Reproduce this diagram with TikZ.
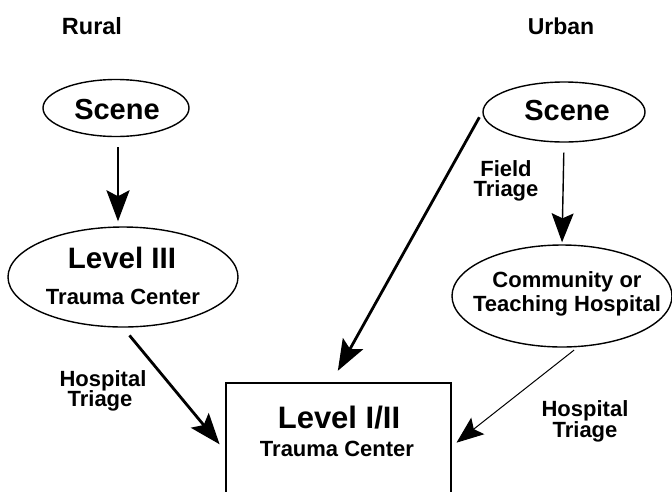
\documentclass[tikz,border=0pt]{standalone}
\usepackage{fontspec}
\setmainfont{Liberation Sans}
\usetikzlibrary{shapes.geometric,arrows.meta}
\tikzset{
  oval/.style={draw,ellipse,line width=1.4pt,inner sep=0pt},
  txt/.style={inner sep=0pt,anchor=base,font=\bfseries},
  bigarrow/.style={line width=2.8pt,-{Stealth[length=31pt,width=23pt,inset=6pt]}},
  midarrow/.style={line width=1.4pt,-{Stealth[length=29pt,width=22pt,inset=5pt]}},
  thinarrow/.style={line width=1pt,-{Stealth[length=27pt,width=21pt,inset=5pt]}},
}
\begin{document}
\begin{tikzpicture}[x=1pt,y=-1pt]
\clip (0,0) rectangle (672,491);
\fill[white] (0,0) rectangle (672,491);
% headers
\node[txt,font=\bfseries\fontsize{23.5}{25}\selectfont] (rural) at (92,34) {Rural};
\node[txt,font=\bfseries\fontsize{23}{25}\selectfont] (urban) at (561,34) {Urban};
% shapes
\node[oval,minimum width=146pt,minimum height=57pt] (SL) at (116,108) {};
\node[oval,minimum width=162pt,minimum height=60pt] (SR) at (564,112) {};
\node[oval,minimum width=230pt,minimum height=100pt] (L3) at (123,277) {};
\node[oval,minimum width=220pt,minimum height=102pt] (CM) at (562,296) {};
\draw[line width=2pt] (226,500) |- (451,383) -- (451,500);
\node[inner sep=0pt,minimum width=225pt,minimum height=120pt,anchor=north west] (BX) at (226,383) {};
% texts
\node[txt,font=\bfseries\fontsize{29}{31}\selectfont] (t1) at (117,119) {Scene};
\node[txt,font=\bfseries\fontsize{29}{31}\selectfont] (t2) at (567,120) {Scene};
\node[txt,font=\bfseries\fontsize{29.5}{31}\selectfont] (t3) at (122,268) {Level III};
\node[txt,font=\bfseries\fontsize{22}{24}\selectfont] (t4) at (123,304) {Trauma Center};
\node[txt,font=\bfseries\fontsize{22}{24}\selectfont] (t5) at (567,287) {Community or};
\node[txt,font=\bfseries\fontsize{22}{24}\selectfont] (t6) at (567,311) {Teaching Hospital};
\node[txt,font=\bfseries\fontsize{31}{33}\selectfont] (t7) at (339,428) {Level I/II};
\node[txt,font=\bfseries\fontsize{22}{24}\selectfont] (t8) at (337,456) {Trauma Center};
\node[txt,font=\bfseries\fontsize{22}{24}\selectfont] (t9) at (506,176) {Field};
\node[txt,font=\bfseries\fontsize{22}{24}\selectfont] (t10) at (506,196) {Triage};
\node[txt,font=\bfseries\fontsize{22}{24}\selectfont] (t11) at (103,386) {Hospital};
\node[txt,font=\bfseries\fontsize{22}{24}\selectfont] (t12) at (100,406) {Triage};
\node[txt,font=\bfseries\fontsize{22}{24}\selectfont] (t13) at (585,416) {Hospital};
\node[txt,font=\bfseries\fontsize{22}{24}\selectfont] (t14) at (585,437) {Triage};
% connector targets
\coordinate (a1) at (331,383);
\coordinate (a2) at (226,452);
\coordinate (a3) at (451,447);
\coordinate (s3) at (125,330);
\coordinate (s4) at (578,347);
\coordinate (s1) at (118,137);
% connectors
\draw[bigarrow,shorten <=10pt,shorten >=5pt] (s1) -- (s1 |- L3.north);
\draw[midarrow,shorten <=10pt,shorten >=2pt] (SR.south) -- (CM.north);
\draw[bigarrow,shorten <=6pt,shorten >=14pt] (SR.west) -- (a1);
\draw[bigarrow,shorten <=7pt,shorten >=10pt] (s3) -- (a2);
\draw[thinarrow,shorten <=5pt,shorten >=7pt] (s4) -- (a3);
\end{tikzpicture}
\end{document}
